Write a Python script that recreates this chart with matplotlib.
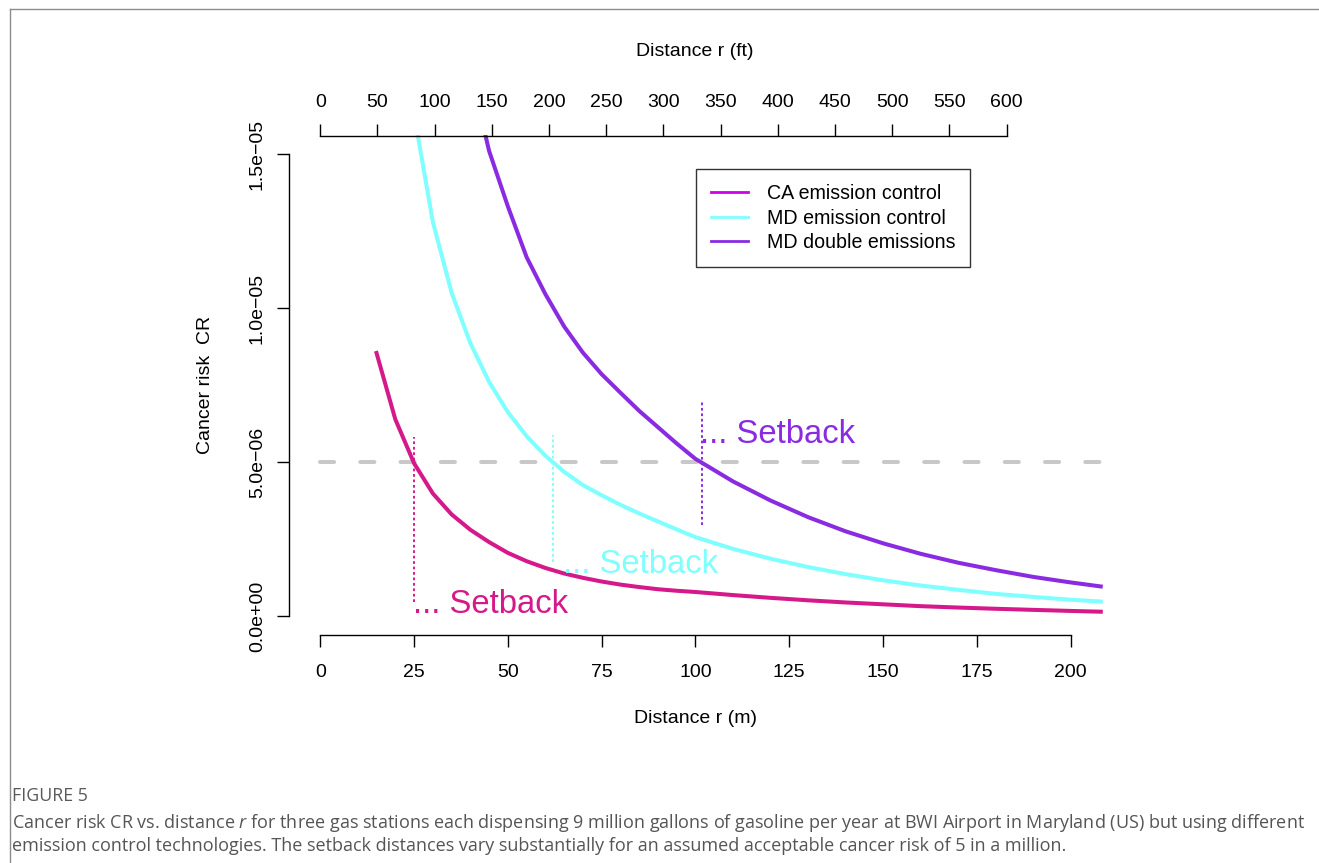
import numpy as np
import matplotlib
matplotlib.use("Agg")
import matplotlib.pyplot as plt
from matplotlib.lines import Line2D

plt.rcParams["font.family"] = ["Liberation Sans", "DejaVu Sans"]
plt.rcParams["mathtext.fontset"] = "custom"
plt.rcParams["mathtext.it"] = "Open Sans:italic"
plt.rcParams["mathtext.rm"] = "Open Sans"

# distance r (m) and cancer risk (units of 1e-6)
r_m = [15, 20, 25, 30, 35, 40, 45, 50, 55, 60, 65, 70, 75, 80, 85, 90, 95, 100,
       110, 120, 130, 140, 150, 160, 170, 180, 190, 200, 208]
cr_ca = [8.54, 6.39, 4.96, 3.98, 3.30, 2.80, 2.40, 2.05, 1.78, 1.56, 1.38,
         1.24, 1.12, 1.02, 0.94, 0.87, 0.82, 0.78, 0.68, 0.59, 0.51, 0.44,
         0.38, 0.32, 0.275, 0.235, 0.20, 0.165, 0.14]
cr_md = [np.nan, np.nan, 16.3, 12.8, 10.5, 8.86, 7.6, 6.62, 5.84, 5.2, 4.68,
         4.25, 3.92, 3.61, 3.33, 3.07, 2.81, 2.56, 2.18, 1.86, 1.59, 1.36, 1.16,
         0.99, 0.85, 0.72, 0.62, 0.53, 0.47]
cr_md2 = [np.nan, np.nan, np.nan, np.nan, np.nan, 17.7, 15.1, 13.3, 11.65,
          10.45, 9.4, 8.55, 7.85, 7.25, 6.66, 6.13, 5.6, 5.1, 4.37, 3.75, 3.21,
          2.75, 2.36, 2.02, 1.73, 1.49, 1.27, 1.09, 0.96]

series_names = ["CA emission control", "MD emission control", "MD double emissions"]
curve_colors = ["#D6198A", "#7FFFFF", "#8A2BE2"]
legend_colors = ["#D200E6", "#7FFFFF", "#8A2BE2"]

acceptable_cr = 5.0
# setback markers: distance, dotted-line span, label anchor
setback_r = [25, 62, 101.8]
vline_top = [5.82, 5.88, 7.01]
vline_bottom = [0.46, 1.76, 2.95]
label_r = [24.7, 64.6, 101.3]
label_cr = [0.10, 1.40, 5.62]

x_ticks_m = [0, 25, 50, 75, 100, 125, 150, 175, 200]
x_ticks_ft = [0, 50, 100, 150, 200, 250, 300, 350, 400, 450, 500, 550, 600]
y_ticks = [0, 5e-6, 1e-5, 1.5e-5]
y_tick_labels = ["0.0e+00", "5.0e\u221206", "1.0e\u221205", "1.5e\u221205"]

W, H = 1319, 863
fig = plt.figure(figsize=(W / 100, H / 100), dpi=100)

# outer frame of the figure panel
fig.add_artist(Line2D([9.5 / W, 9.5 / W], [0, 1 - 9.5 / H], color="#8c8c8c", lw=1.0))
fig.add_artist(Line2D([9.5 / W, 1], [1 - 9.5 / H, 1 - 9.5 / H], color="#8c8c8c", lw=1.0))

left, right, top, bottom = 289, 1132, 135.5, 634.5
ax = fig.add_axes([left / W, 1 - bottom / H, (right - left) / W, (bottom - top) / H])
ax.patch.set_alpha(0)

r = np.array(r_m)
for vals, col in zip([cr_ca, cr_md, cr_md2], curve_colors):
    ax.plot(r, np.array(vals) * 1e-6, color=col, lw=2.9)

ax.plot([0, 208], [acceptable_cr * 1e-6] * 2, color="#C8C8C8", lw=2.9,
        linestyle=(0, (3.5, 6.5)), dash_capstyle="round", zorder=1)

for i in range(3):
    ax.plot([setback_r[i]] * 2, [vline_bottom[i] * 1e-6, vline_top[i] * 1e-6],
            color=curve_colors[i], lw=1.4, linestyle=(0, (1.4, 1.4)))
    ax.text(label_r[i], label_cr[i] * 1e-6, "... Setback", color=curve_colors[i],
            fontsize=23.7, ha="left", va="baseline")

ax.set_xlim(-8.32, 216.32)
ax.set_ylim(-0.6e-6, 15.6e-6)
ax.set_xticks(x_ticks_m)
ax.set_xticklabels([str(t) for t in x_ticks_m])
ax.set_yticks(y_ticks)
ax.set_yticklabels(y_tick_labels, rotation=90, va="center")
ax.tick_params(axis="both", length=8.6, width=1.0, labelsize=14, colors="black")
ax.tick_params(axis="x", pad=12.5)
ax.tick_params(axis="y", pad=8)
for s in ["top", "right"]:
    ax.spines[s].set_visible(False)
ax.spines["left"].set_bounds(0, 1.5e-5)
ax.spines["bottom"].set_bounds(0, 200)
for s in ["left", "bottom"]:
    ax.spines[s].set_linewidth(1.0)

# top axis in feet
ax2 = ax.twiny()
ax2.set_xlim(-8.32 / 0.3048, 216.32 / 0.3048)
ax2.set_xticks(x_ticks_ft)
ax2.set_xticklabels([str(t) for t in x_ticks_ft])
ax2.tick_params(axis="x", length=8.6, width=1.0, labelsize=14, pad=9)
for s in ["left", "right", "bottom"]:
    ax2.spines[s].set_visible(False)
ax2.spines["top"].set_bounds(0, 600)
ax2.spines["top"].set_linewidth(1.0)

fig.text(695 / W, 1 - 718 / H, "Distance r (m)", fontsize=14, ha="center", va="center")
fig.text(695 / W, 1 - 51 / H, "Distance r (ft)", fontsize=14, ha="center", va="center")
fig.text(205 / W, 1 - 385 / H, "Cancer risk  CR", fontsize=14, ha="center",
         va="center", rotation=90)

handles = [Line2D([], [], color=c, lw=2.0) for c in legend_colors]
leg = ax.legend(handles, series_names, loc="upper left",
                bbox_to_anchor=(695.5 / W, 1 - 169 / H), bbox_transform=fig.transFigure,
                fontsize=14.1, frameon=True, fancybox=False, edgecolor="black",
                handlelength=1.9, handletextpad=0.95, labelspacing=0.27,
                borderpad=0.78, borderaxespad=0)
leg.get_frame().set_linewidth(1.0)

fig.text(12 / W, 1 - 796 / H, "FIGURE 5", fontsize=12.8, color="#5a5a5a",
         family="Open Sans", ha="left", va="center")
fig.text(12 / W, 1 - 823 / H,
         "Cancer risk CR vs. distance $r$ for three gas stations each dispensing 9 million "
         "gallons of gasoline per year at BWI Airport in Maryland (US) but using different",
         fontsize=13.0, color="#555555", family="Open Sans", ha="left", va="center")
fig.text(12 / W, 1 - 846 / H,
         "emission control technologies. The setback distances vary substantially for an "
         "assumed acceptable cancer risk of 5 in a million.",
         fontsize=13.0, color="#555555", family="Open Sans", ha="left", va="center")

fig.savefig("out.png", dpi=100)
